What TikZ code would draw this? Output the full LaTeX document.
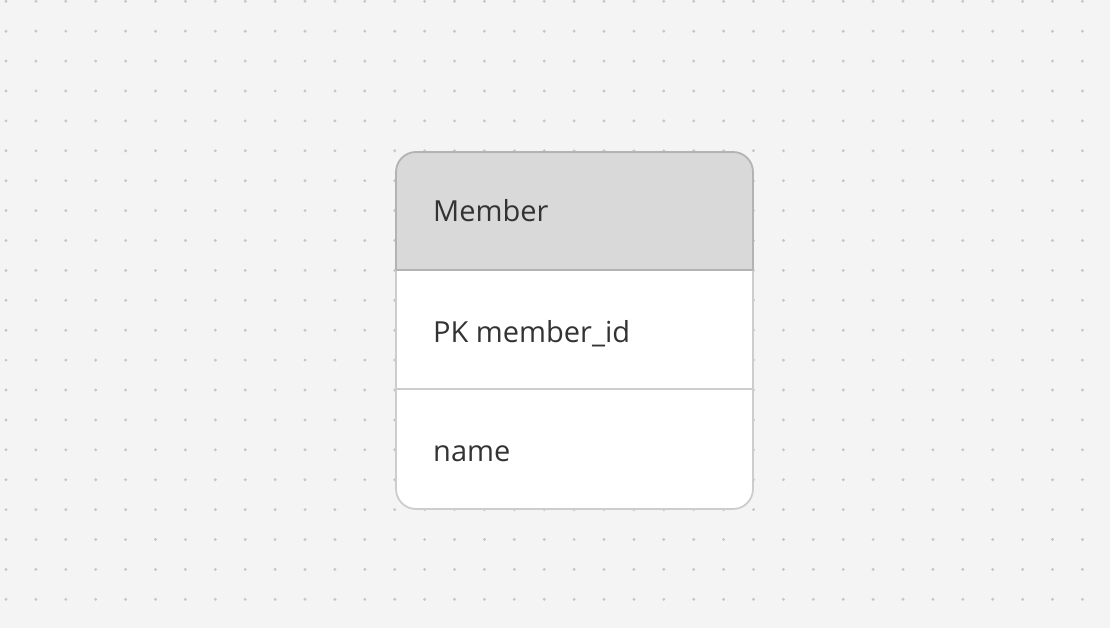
\documentclass[tikz,border=0pt]{standalone}
\usepackage{fontspec}
\setmainfont{Open Sans}
\usepackage{tikz}

\definecolor{canvasbg}{HTML}{F4F4F4}
\definecolor{griddot}{HTML}{C6C6C6}
\definecolor{headfill}{HTML}{D9D9D9}
\definecolor{headline}{HTML}{B3B3B3}
\definecolor{bodyline}{HTML}{CDCDCD}
\definecolor{fieldtext}{HTML}{333333}

\tikzset{
	fieldlabel/.style={anchor=base west, inner sep=0pt, text=fieldtext, font=\fontsize{29}{34}\selectfont},
}

\begin{document}
\begin{tikzpicture}[x=1pt, y=-1pt]
		\useasboundingbox (0, 0) rectangle (1110, 628);
		\fill[canvasbg] (0, 0) rectangle (1110, 628);

		%%% Dot grid
		\foreach \i in {0, ..., 36} {
			\foreach \j in {0, ..., 20} {
				\fill[griddot] (6 + 29.9*\i, 1.3 + 29.9*\j) circle (1.6pt);
			}
		}

		%%% Table body
		\filldraw[fill=white, draw=bodyline, line width=1.8pt, rounded corners=20pt] (396, 270) -- (396, 509) -- (753, 509) -- (753, 270);
		\draw[bodyline, line width=1.8pt] (396, 389) -- (753, 389);

		%%% Table header
		\filldraw[fill=headfill, draw=headline, line width=1.8pt, rounded corners=20pt] (396, 270) -- (396, 152) -- (753, 152) -- (753, 270);
		\draw[headline, line width=1.8pt] (396, 270) -- (753, 270);

		%%% Labels
		\node[fieldlabel] (title) at (433, 222) {Member};
		\node[fieldlabel] (pkrow) at (433, 342) {PK member\_id};
		\node[fieldlabel] (namerow) at (433, 461) {name};
		\end{tikzpicture}
\end{document}
